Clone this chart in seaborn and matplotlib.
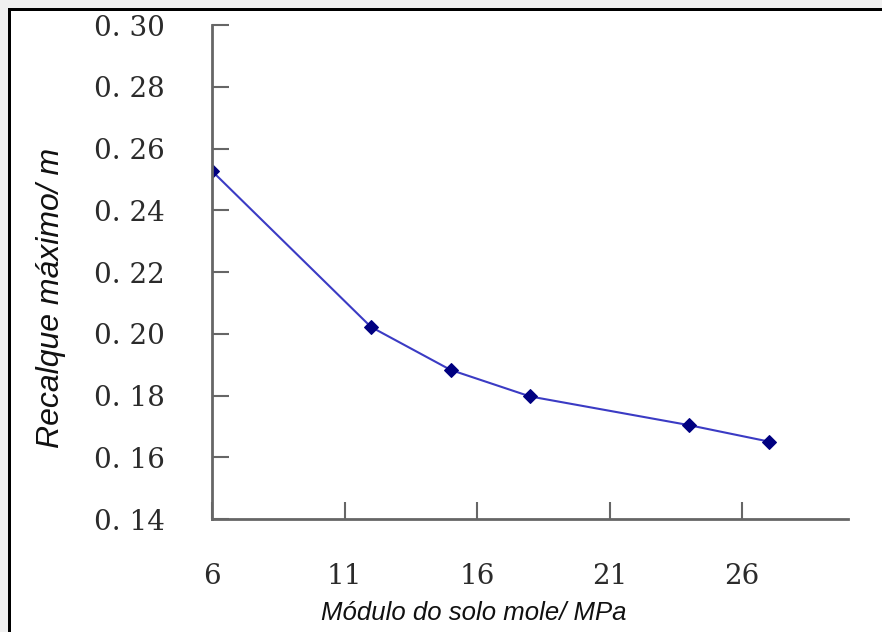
import matplotlib
matplotlib.use("Agg")
import matplotlib.pyplot as plt
from matplotlib.patches import Rectangle
import seaborn as sns
import pandas as pd

# dados
modulo = [6, 12, 15, 18, 24, 27]
recalque = [0.2527, 0.2022, 0.1883, 0.1797, 0.1704, 0.1651]
x_ticks = [6, 11, 16, 21, 26]
y_ticks = [0.14, 0.16, 0.18, 0.20, 0.22, 0.24, 0.26, 0.28, 0.30]
y_tick_labels = ["0. 14", "0. 16", "0. 18", "0. 20", "0. 22", "0. 24", "0. 26", "0. 28", "0. 30"]

df = pd.DataFrame({"modulo": modulo, "recalque": recalque})

sns.set_style("ticks")
plt.rcParams["font.family"] = ["Liberation Sans", "DejaVu Sans"]

fig = plt.figure(figsize=(8.82, 6.32), dpi=100)
ax = fig.add_axes([212 / 882, 1 - 519 / 632, 636 / 882, 494 / 632])

sns.lineplot(data=df, x="modulo", y="recalque", ax=ax, color="#3b3bc4", lw=1.5,
             marker="D", markersize=7.5, markerfacecolor="#000080",
             markeredgecolor="#000080")

ax.set_xlim(6, 30)
ax.set_ylim(0.14, 0.30)
ax.set_xticks(x_ticks)
ax.set_xticklabels([str(t) for t in x_ticks])
ax.set_yticks(y_ticks)
ax.set_yticklabels(y_tick_labels)

for side in ["top", "right"]:
    ax.spines[side].set_visible(False)
for side in ["left", "bottom"]:
    ax.spines[side].set_color("#666666")
    ax.spines[side].set_linewidth(2)

ax.tick_params(direction="in", length=12, width=1.5, color="#666666")
ax.tick_params(axis="y", pad=34)
ax.tick_params(axis="x", pad=32)
for lbl in ax.get_xticklabels() + ax.get_yticklabels():
    lbl.set_family("DejaVu Serif")
    lbl.set_fontsize(20)
    lbl.set_color("#2b2b2b")

ax.set_xlabel("Módulo do solo mole/ MPa", fontsize=18.5, style="italic", color="#111111")
ax.set_ylabel("Recalque máximo/ m", fontsize=23, style="italic", color="#111111")
ax.xaxis.set_label_coords(0.412, -0.165)
ax.yaxis.set_label_coords(-0.23, 0.447)

# moldura da imagem original (cinza + linha preta em cima e à esquerda)
fig.add_artist(Rectangle((0, 1 - 8 / 632), 1, 8 / 632, transform=fig.transFigure,
                         color="#f0f0f0", lw=0))
fig.add_artist(Rectangle((0, 0), 8 / 882, 1, transform=fig.transFigure,
                         color="#f0f0f0", lw=0))
fig.add_artist(Rectangle((8 / 882, 1 - 10.5 / 632), 1, 2.5 / 632, transform=fig.transFigure,
                         color="black", lw=0))
fig.add_artist(Rectangle((8 / 882, 0), 2.5 / 882, 1 - 8 / 632, transform=fig.transFigure,
                         color="black", lw=0))

fig.savefig("out.png", dpi=100)
plt.close(fig)
